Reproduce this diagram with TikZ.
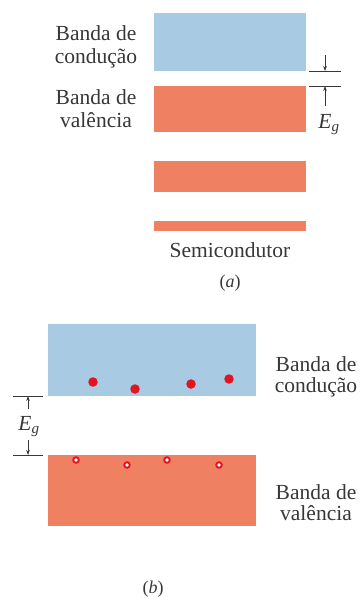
\documentclass[tikz,border=0pt]{standalone}
\usepackage{fontspec}
\setmainfont{Liberation Serif}
\usetikzlibrary{arrows.meta}

\definecolor{condblue}{RGB}{168,202,226}
\definecolor{valorange}{RGB}{240,128,98}
\definecolor{elecred}{RGB}{226,20,32}
\definecolor{txtgray}{RGB}{55,55,55}

\newcommand{\egap}{\textit{E}\textsubscript{\itshape g}}

\tikzset{
  band/.style={inner sep=0pt,outer sep=0pt,anchor=north west},
  condband/.style={band,fill=condblue},
  valband/.style={band,fill=valorange},
  lbl/.style={text=txtgray,font=\fontsize{21.5}{23}\selectfont,align=center,inner sep=0pt},
  gapline/.style={draw=txtgray,line width=1pt},
  gaparrow/.style={draw=txtgray,line width=0.6pt,-{Stealth[length=5pt,width=3.5pt]}},
  electron/.style={circle,fill=elecred,inner sep=0pt,minimum size=9.5pt},
  hole/.style={circle,draw=elecred,fill=white,line width=1.9pt,inner sep=0pt,minimum size=5.5pt}
}

\begin{document}
\begin{tikzpicture}[x=1pt,y=-1pt]
  \useasboundingbox (0,0) rectangle (360,598);

  % (a) semicondutor
  \node[condband,minimum width=152pt,minimum height=58pt] (condA) at (154,13) {};
  \node[valband,minimum width=152pt,minimum height=46pt] (valA) at (154,86) {};
  \node[valband,minimum width=152pt,minimum height=31pt] (valAii) at (154,161) {};
  \node[valband,minimum width=152pt,minimum height=10pt] (valAiii) at (154,221) {};
  \node[lbl] (condlblA) at (96,46.5) {Banda de\\condução};
  \node[lbl] (vallblA) at (96,109) {Banda de\\valência};
  \node[lbl] (semi) at (230,250) {Semicondutor};
  \node[lbl,font=\fontsize{18}{20}\selectfont] (capA) at (230,283) {(\textit{a})};

  % gap a
  \draw[gapline] ([xshift=3pt]condA.south east) -- ++(32,0) coordinate (gtA);
  \draw[gapline] ([xshift=3pt]valA.north east) -- ++(32,0) coordinate (gbA);
  \node[lbl] (egA) at (329,125) {\egap};
  \coordinate (atA) at (325,55);
  \coordinate (abA) at (325,106);
  \draw[gaparrow] (atA) -- (atA |- condA.south);
  \draw[gaparrow] (abA) -- (abA |- valA.north);

  % (b)
  \node[condband,minimum width=208pt,minimum height=72pt] (condB) at (48,324) {};
  \node[valband,minimum width=208pt,minimum height=71pt] (valB) at (48,455) {};
  \node[lbl,font=\fontsize{21.5}{21}\selectfont] (condlblB) at (316,377) {Banda de\\condução};
  \node[lbl,font=\fontsize{21.5}{21}\selectfont] (vallblB) at (316,503) {Banda de\\valência};
  \node[lbl,font=\fontsize{18}{20}\selectfont] (capB) at (153,589) {(\textit{b})};

  % eletroes e buracos
  \foreach \px/\py [count=\i] in {93/382, 135/389, 191/384, 229/379}
    \node[electron] (e\i) at (\px,\py) {};
  \foreach \px/\py [count=\i] in {76/460, 127/465, 167/460, 219/465}
    \node[hole] (h\i) at (\px,\py) {};

  % gap b
  \draw[gapline] ([xshift=-5pt]condB.south west) -- ++(-30,0) coordinate (gtB);
  \draw[gapline] ([xshift=-5pt]valB.north west) -- ++(-30,0) coordinate (gbB);
  \node[lbl] (egB) at (29,427) {\egap};
  \coordinate (atB) at (28,409);
  \coordinate (abB) at (28,440);
  \draw[gaparrow] (atB) -- (atB |- condB.south);
  \draw[gaparrow] (abB) -- (abB |- valB.north);
\end{tikzpicture}
\end{document}
